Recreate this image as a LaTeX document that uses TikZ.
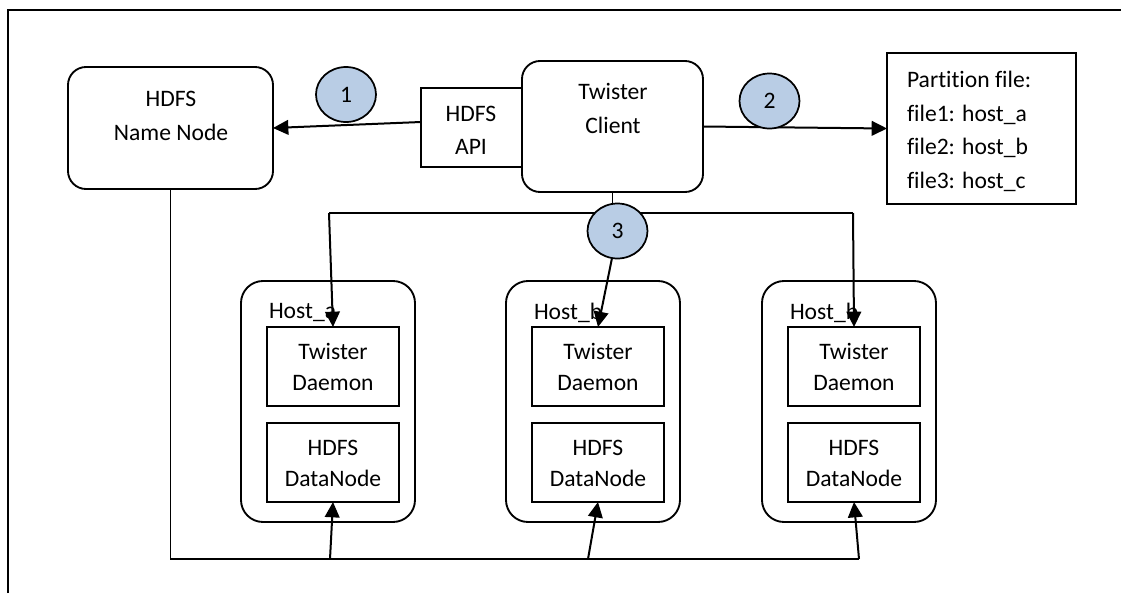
\documentclass[tikz,border=0pt]{standalone}
\usepackage{fontspec}
\setmainfont{Carlito}[Ligatures={NoCommon}]
\usetikzlibrary{arrows.meta,calc,shapes.geometric}
\definecolor{circblue}{RGB}{185,205,229}
\pgfdeclarelayer{front}
\pgfsetlayers{main,front}
\begin{document}
\begin{tikzpicture}[x=0.75pt,y=-0.75pt,
  every node/.style={inner sep=0pt, outer sep=0pt},
  rbox/.style={draw, line width=1.4pt, rounded corners=13.5pt, fill=white},
  hostbox/.style={draw, line width=1.4pt, rounded corners=16.5pt, fill=white, minimum width=130.5pt, minimum height=180.75pt},
  sbox/.style={draw, line width=1.4pt, fill=white},
  inbox/.style={sbox, minimum width=99pt, minimum height=59.25pt},
  num/.style={draw, ellipse, line width=1.3pt, fill=circblue, minimum width=45pt, minimum height=41.25pt, font=\fontsize{17.7}{25}\selectfont},
  txt/.style={align=center, font=\fontsize{17.7}{25.1}\selectfont},
  htxt/.style={align=center, font=\fontsize{17.7}{23.3}\selectfont},
  arr/.style={line width=1.5pt, -{Triangle[length=11.5pt,width=11pt]}},
  ln/.style={line width=1.1pt}
]
\useasboundingbox (0,0) rectangle (1121,593);
\fill[white] (0,0) rectangle (1121,593);

% frame
\coordinate (f1) at (8,593);
\coordinate (f2) at (8,10);
\coordinate (f3) at (1121,10);
\draw[line width=1pt] (f1) -- (f2) -- (f3);

% top row
\node[rbox, minimum width=153.75pt, minimum height=91.5pt] (nn) at (170.5,128) {};
\node[txt] (nnt) at (171,116) {HDFS\\Name Node};
\node[rbox, minimum width=135.75pt, minimum height=98.25pt] (client) at (612.5,126.5) {};
\node[txt] (clientt) at (613,108.5) {Twister\\Client};
\node[sbox, minimum width=75.75pt, minimum height=59.25pt] (api) at (471.5,127.5) {};
\node[txt] (apit) at (471,130.5) {HDFS\\API};
\node[sbox, minimum width=141.75pt, minimum height=113.25pt] (part) at (981.5,128.5) {};
\node[txt, align=left, anchor=west] (partt) at (907,131.5) {Partition file:\\file1: host\_a\\file2: host\_b\\file3: host\_c};

% hosts
\node[hostbox] (ha) at (328,401.5) {};
\node[hostbox] (hb) at (593,401.5) {};
\node[hostbox] (hc) at (849,401.5) {};
\node[txt, anchor=west] (hal) at (269,313) {Host\_a};
\node[txt, anchor=west] (hbl) at (534,313) {Host\_b};
\node[txt, anchor=west] (hcl) at (790,313) {Host\_b};
\node[inbox] (ta) at (333,366.5) {};
\node[inbox] (tb) at (598,366.5) {};
\node[inbox] (tc) at (854,366.5) {};
\node[htxt] (tat) at (333,366.5) {Twister\\Daemon};
\node[htxt] (tbt) at (598,366.5) {Twister\\Daemon};
\node[htxt] (tct) at (854,366.5) {Twister\\Daemon};
\node[inbox] (da) at (333,462.5) {};
\node[inbox] (db) at (598,462.5) {};
\node[inbox] (dc) at (854,462.5) {};
\node[htxt] (dat) at (333,463) {HDFS\\DataNode};
\node[htxt] (dbt) at (598,463) {HDFS\\DataNode};
\node[htxt] (dct) at (854,463) {HDFS\\DataNode};

% circles
\begin{pgfonlayer}{front}
\node[num] (c1) at (346,94.5) {1};
\node[num] (c2) at (769.5,101) {2};
\node[num] (c3) at (617.5,231) {3};
\end{pgfonlayer}

% connectors
\draw[arr] ($(api.west)+(0,-5.5)$) -- (nn.east);
\draw[arr] (client.east) -- (part.west);

\coordinate (jl) at (329,213);
\coordinate (jr) at (853,213);
\draw[ln] (client.south) -- (client.south |- jl);
\draw[ln] (jl) -- (jr);
\draw[arr] (jl) -- (ta.north);
\draw[arr] (jr) -- (tc.north);
\draw[arr] (c3) -- (tb.north);

\coordinate (ba) at (330,559);
\coordinate (bb) at (588,559);
\coordinate (br) at (859,559);
\draw[ln] (nn.south) |- (br);
\draw[arr] (ba) -- (da.south);
\draw[arr] (bb) -- (db.south);
\draw[arr] (br) -- (dc.south);
\end{tikzpicture}
\end{document}
